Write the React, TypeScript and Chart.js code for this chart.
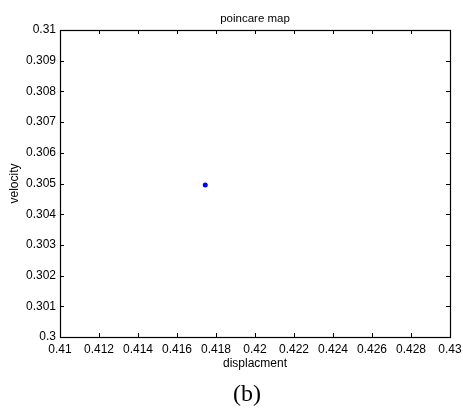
import React, { useEffect, useRef } from "react";
import { Chart, registerables } from "chart.js";

Chart.register(...registerables);

const chartTitle = "poincare map";
const xAxisTitle = "displacment";
const yAxisTitle = "velocity";
const panelLabel = "(b)";

const xRange = [0.41, 0.43];
const yRange = [0.3, 0.31];
const xStep = 0.002;
const yStep = 0.001;

const displacement = [0.41745];
const velocity = [0.30495];

const FONT = "'Liberation Sans', Arial, sans-serif";

const fmt = (v: number) => String(Number(Number(v).toFixed(4)));

const framePlugin = {
  id: "frame",
  afterDraw(chart: any) {
    const { ctx, chartArea } = chart;
    const { left, right, top, bottom } = chartArea;
    const xs = chart.scales.x;
    const ys = chart.scales.y;
    const len = 4;
    ctx.save();
    ctx.strokeStyle = "#000";
    ctx.lineWidth = 1;
    ctx.beginPath();
    xs.ticks.forEach((t: any) => {
      const px = Math.round(xs.getPixelForValue(t.value)) + 0.5;
      ctx.moveTo(px, bottom);
      ctx.lineTo(px, bottom - len);
      ctx.moveTo(px, top);
      ctx.lineTo(px, top + len);
    });
    ys.ticks.forEach((t: any) => {
      const py = Math.round(ys.getPixelForValue(t.value)) + 0.5;
      ctx.moveTo(left, py);
      ctx.lineTo(left + len, py);
      ctx.moveTo(right, py);
      ctx.lineTo(right - len, py);
    });
    ctx.stroke();
    ctx.lineWidth = 1.2;
    ctx.strokeRect(Math.round(left) + 0.5, Math.round(top) + 0.5, Math.round(right - left), Math.round(bottom - top));
    ctx.fillStyle = "#000";
    ctx.font = `11.5px ${FONT}`;
    ctx.textAlign = "center";
    ctx.textBaseline = "middle";
    ctx.fillText(chartTitle, (left + right) / 2, 19);
    ctx.restore();
  },
};

export default function App() {
  const ref = useRef<HTMLCanvasElement | null>(null);
  useEffect(() => {
    if (!ref.current) return;
    const chart = new Chart(ref.current, {
      type: "scatter",
      data: {
        datasets: [
          {
            data: displacement.map((x, i) => ({ x, y: velocity[i] })),
            backgroundColor: "#0000ff",
            borderColor: "#0000ff",
            pointRadius: 2.5,
            pointBorderWidth: 0,
          },
        ],
      },
      options: {
        animation: false,
        responsive: false,
        maintainAspectRatio: false,
        layout: { padding: { top: 30, right: 13, bottom: 41, left: 0 } },
        plugins: {
          legend: { display: false },
          tooltip: { enabled: false },
          title: { display: false },
        },
        scales: {
          x: {
            type: "linear",
            min: xRange[0],
            max: xRange[1],
            border: { display: false },
            grid: { display: false, drawTicks: false },
            ticks: {
              stepSize: xStep,
              padding: 5,
              color: "#000",
              font: { family: FONT, size: 12 },
              maxRotation: 0,
              autoSkip: false,
              callback: (v: any) => fmt(v),
            },
            title: {
              display: true,
              text: xAxisTitle,
              color: "#000",
              font: { family: FONT, size: 12 },
              padding: { top: 0, bottom: 0 },
            },
            afterFit: (s: any) => {
              s.height = 34;
              s.paddingLeft = 0;
              s.paddingRight = 0;
            },
          },
          y: {
            type: "linear",
            min: yRange[0],
            max: yRange[1],
            border: { display: false },
            grid: { display: false, drawTicks: false },
            ticks: {
              stepSize: yStep,
              padding: 4,
              color: "#000",
              font: { family: FONT, size: 12 },
              autoSkip: false,
              callback: (v: any) => fmt(v),
            },
            title: {
              display: true,
              text: yAxisTitle,
              color: "#000",
              font: { family: FONT, size: 12 },
              padding: { top: 7, bottom: 0 },
            },
            afterFit: (s: any) => {
              s.width = 60;
              s.paddingTop = 0;
              s.paddingBottom = 0;
            },
          },
        },
      },
      plugins: [framePlugin],
    } as any);
    return () => chart.destroy();
  }, []);
  return (
    <div style={{ position: "absolute", left: 0, top: 0, width: 463, height: 412, background: "#fff" }}>
      <canvas ref={ref} width={463} height={412} style={{ width: 463, height: 412, display: "block" }} />
      <div
        style={{
          position: "absolute",
          left: 197,
          width: 100,
          top: 378,
          textAlign: "center",
          fontFamily: "'Liberation Serif', 'Times New Roman', serif",
          fontSize: 24,
          lineHeight: "30px",
          color: "#000",
        }}
      >
        {panelLabel}
      </div>
    </div>
  );
}
